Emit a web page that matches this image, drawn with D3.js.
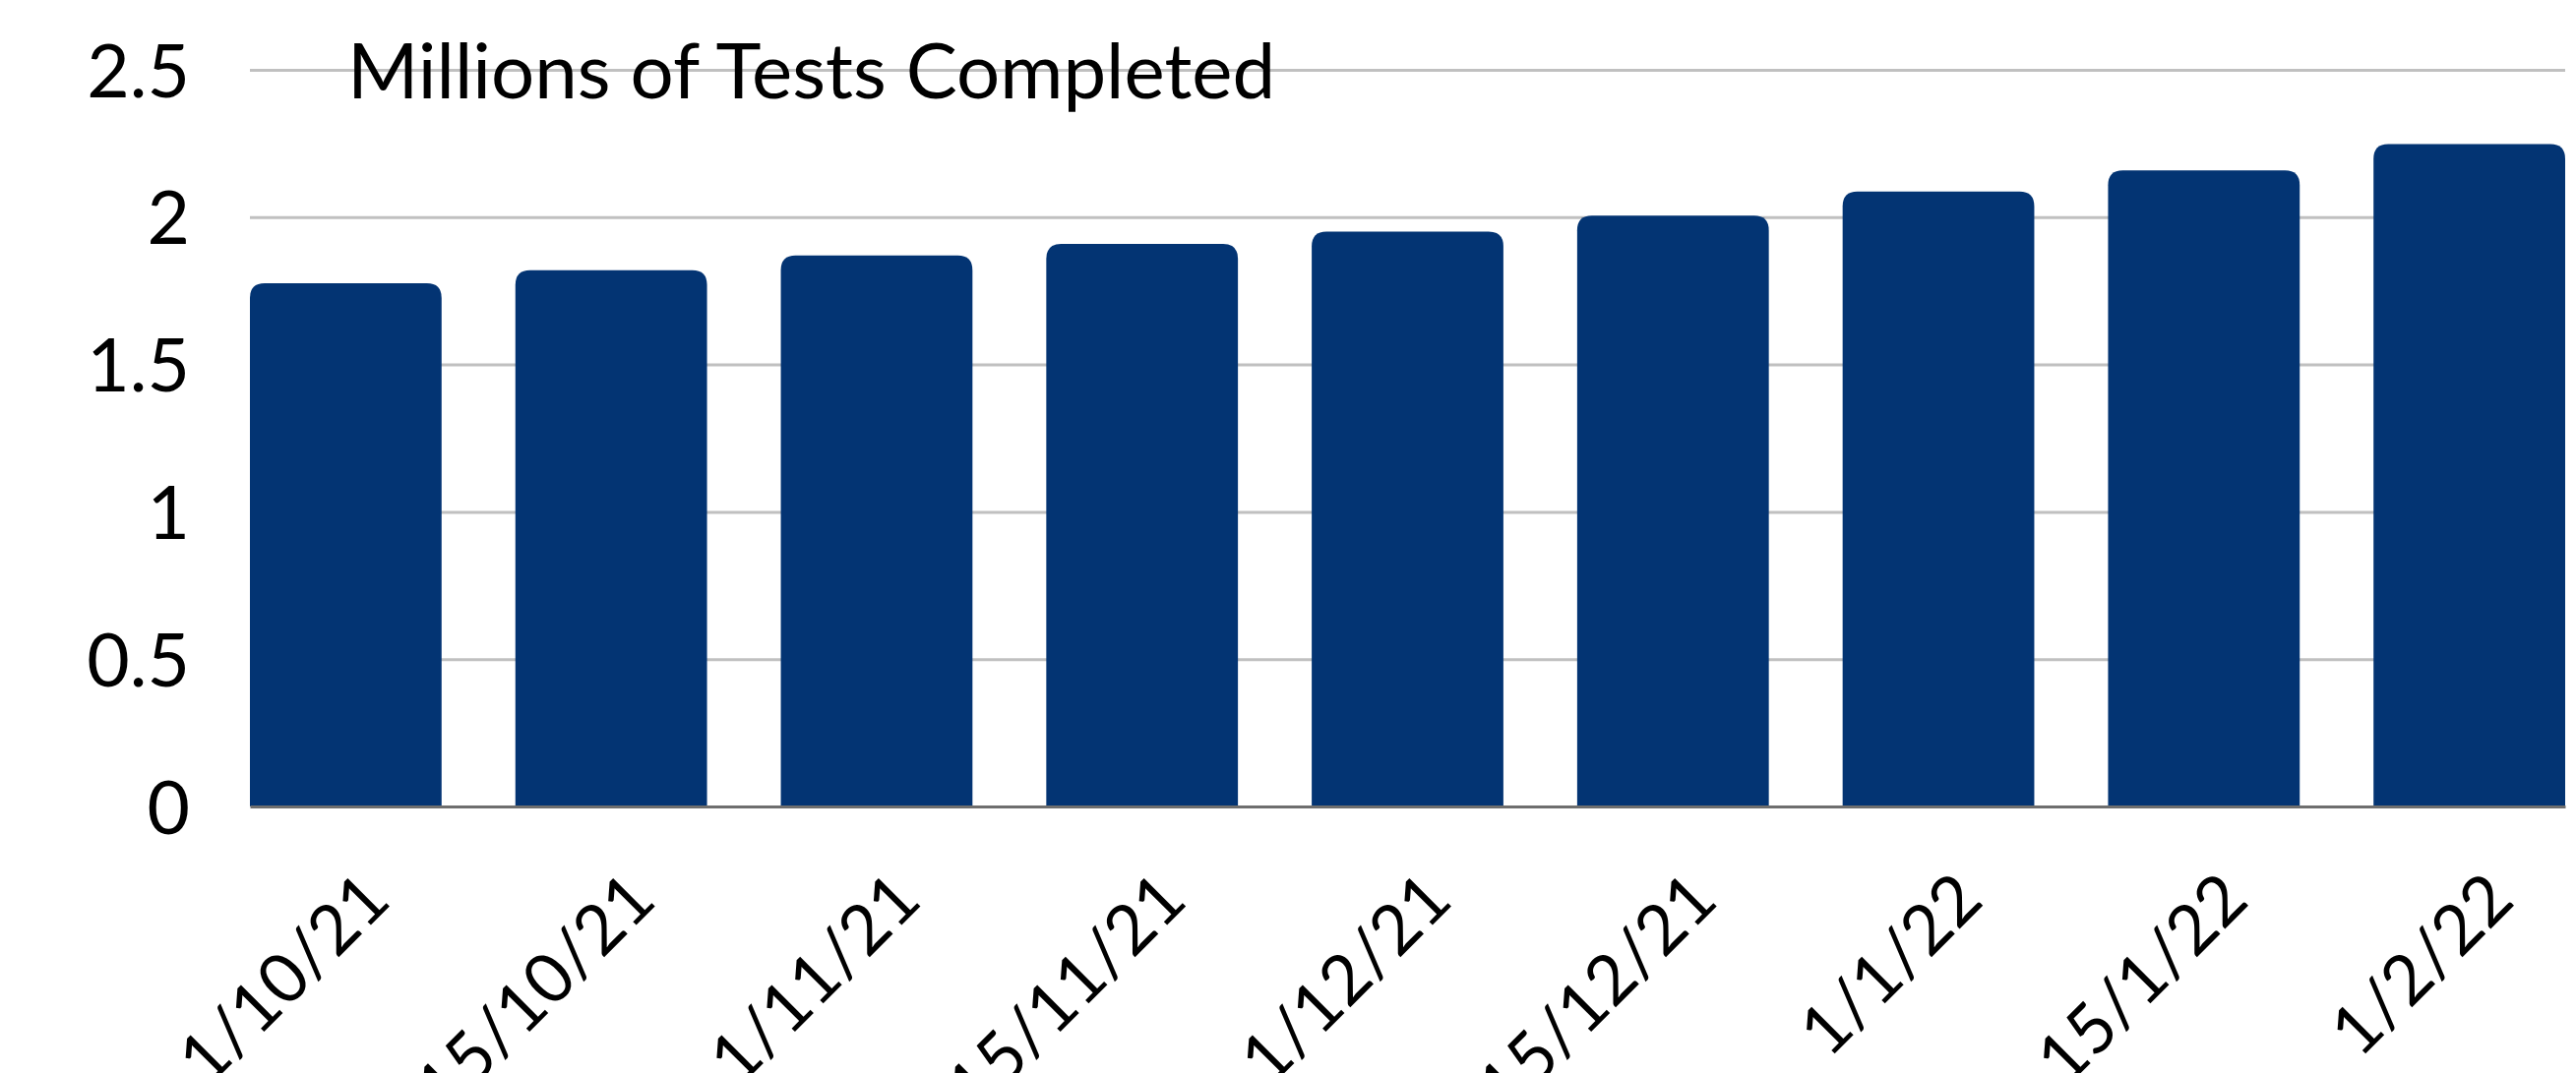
<!DOCTYPE html>
<html>
<head>
<meta charset="utf-8">
<script src="https://cdn.jsdelivr.net/npm/d3@7"></script>
<style>
  html, body { margin: 0; padding: 0; background: #fff; }
  svg text { font-family: Lato, 'Open Sans', sans-serif; fill: #000; }
</style>
</head>
<body>
<div id="chart"></div>
<script>
'use strict';

// data
var dates = ['1/10/21', '15/10/21', '1/11/21', '15/11/21', '1/12/21', '15/12/21', '1/1/22', '15/1/22', '1/2/22'];
var tests = [1.776, 1.82, 1.87, 1.909, 1.951, 2.005, 2.087, 2.159, 2.248];
var yTicks = [0, 0.5, 1, 1.5, 2, 2.5];
var yTickLabels = ['0', '0.5', '1', '1.5', '2', '2.5'];
var title = 'Millions of Tests Completed';

var width = 2618, height = 1091;
var margin = {top: 71, right: 11, bottom: 271, left: 254};
var barColor = '#033473';

var svg = d3.select('#chart').append('svg')
  .attr('width', width)
  .attr('height', height);

var x = d3.scaleBand()
  .domain(dates)
  .range([margin.left, width - margin.right])
  .paddingInner(0.278)
  .paddingOuter(0);

var y = d3.scaleLinear()
  .domain([0, 2.5])
  .range([height - margin.bottom, margin.top]);

// gridlines
svg.append('g')
  .attr('class', 'grid')
  .attr('transform', 'translate(' + margin.left + ',0)')
  .call(d3.axisLeft(y).tickValues(yTicks.slice(1)).tickSize(-(width - margin.left - margin.right)).tickFormat(''))
  .call(function(g){
    g.select('.domain').remove();
    g.selectAll('.tick line').attr('stroke', '#c0c0c0').attr('stroke-width', 3);
  });

// y labels
svg.append('g')
  .attr('transform', 'translate(' + margin.left + ',0)')
  .call(d3.axisLeft(y).tickValues(yTicks).tickSize(0).tickPadding(61)
    .tickFormat(function(d, i){ return yTickLabels[i]; }))
  .call(function(g){
    g.select('.domain').remove();
    g.selectAll('text')
      .attr('font-size', 75)
      .attr('dy', '0.36em');
  });

// bars with rounded top corners
function topRounded(x0, y0, w, h, r){
  r = Math.min(r, h, w / 2);
  return 'M' + x0 + ',' + (y0 + h) +
    'V' + (y0 + r) +
    'Q' + x0 + ',' + y0 + ' ' + (x0 + r) + ',' + y0 +
    'H' + (x0 + w - r) +
    'Q' + (x0 + w) + ',' + y0 + ' ' + (x0 + w) + ',' + (y0 + r) +
    'V' + (y0 + h) + 'Z';
}

svg.append('g')
  .selectAll('path')
  .data(tests)
  .enter().append('path')
  .attr('fill', barColor)
  .attr('d', function(d, i){
    var top = y(d);
    return topRounded(x(dates[i]), top, x.bandwidth(), y(0) - top, 15);
  });

// baseline
svg.append('g')
  .attr('transform', 'translate(0,' + y(0) + ')')
  .call(d3.axisBottom(x).tickSize(0).tickFormat(''))
  .call(function(g){
    g.select('.domain').attr('stroke', '#6e6e6e').attr('stroke-width', 3);
  });

// x labels, rotated
svg.append('g')
  .selectAll('text')
  .data(dates)
  .enter().append('text')
  .attr('text-anchor', 'end')
  .attr('font-size', 70)
  .attr('transform', function(d){
    return 'translate(' + (x(d) + x.bandwidth() / 2 + 48) + ',' + (y(0) + 98) + ') rotate(-45)';
  })
  .text(function(d){ return d; });

// title
svg.append('text')
  .attr('x', 353)
  .attr('y', 100)
  .attr('font-size', 78)
  .text(title);
</script>
</body>
</html>
